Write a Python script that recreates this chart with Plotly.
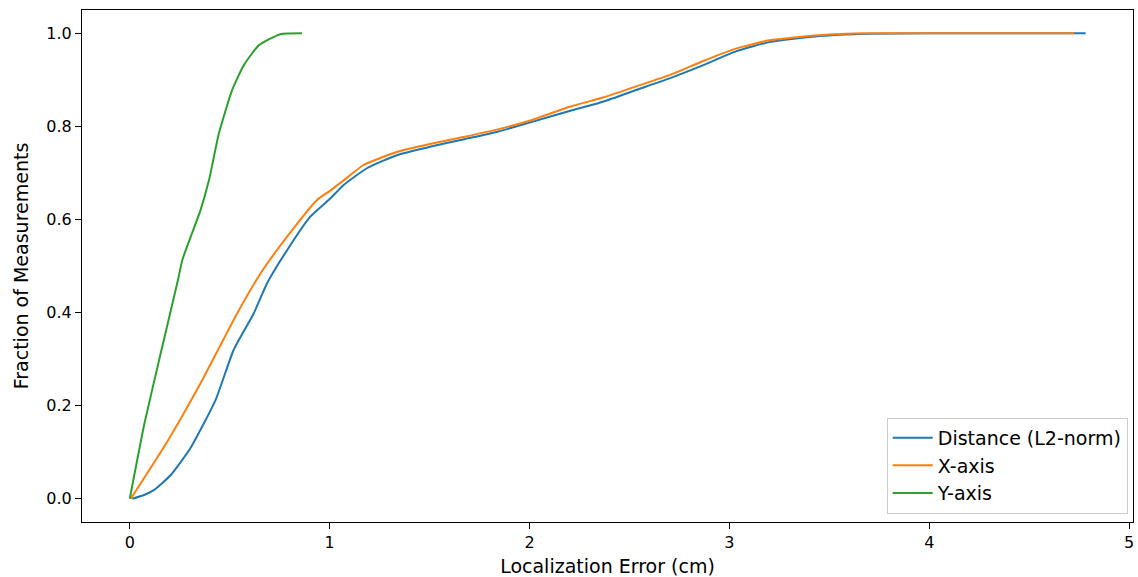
import plotly.graph_objects as go

# Distance (L2-norm) CDF
dist_x = [0.013, 0.072, 0.122, 0.205, 0.304, 0.429, 0.52, 0.62, 0.687, 0.787, 0.903, 1.003, 1.07, 1.186,
          1.336, 1.502, 1.668, 1.835, 2.0, 2.2, 2.367, 2.533, 2.7, 2.866, 3.032, 3.199, 3.45, 3.7, 4.0, 4.782]
dist_y = [0.0, 0.008, 0.019, 0.051, 0.109, 0.212, 0.32, 0.398, 0.463, 0.534, 0.606, 0.645, 0.674, 0.71,
          0.738, 0.756, 0.772, 0.788, 0.808, 0.833, 0.853, 0.878, 0.903, 0.931, 0.961, 0.981, 0.994, 0.999, 1.0, 1.0]

# X-axis CDF
xax_x = [0.005, 0.188, 0.354, 0.537, 0.654, 0.787, 0.937, 1.003, 1.094, 1.169, 1.336, 1.502, 1.668, 1.835,
         2.0, 2.2, 2.367, 2.533, 2.7, 2.866, 3.032, 3.2, 3.45, 3.7, 4.725]
xax_y = [0.0, 0.123, 0.248, 0.398, 0.484, 0.563, 0.642, 0.662, 0.692, 0.717, 0.745, 0.762, 0.777, 0.793,
         0.812, 0.842, 0.862, 0.886, 0.91, 0.94, 0.967, 0.985, 0.996, 1.0, 1.0]

# Y-axis CDF
yax_x = [0.0, 0.072, 0.155, 0.241, 0.263, 0.354, 0.396, 0.446, 0.512, 0.570, 0.645, 0.753, 0.862]
yax_y = [0.0, 0.159, 0.313, 0.47, 0.513, 0.62, 0.684, 0.785, 0.878, 0.931, 0.974, 0.998, 1.0]

series = [
    ("Distance (L2-norm)", dist_x, dist_y, "#1f77b4"),
    ("X-axis", xax_x, xax_y, "#ff7f0e"),
    ("Y-axis", yax_x, yax_y, "#2ca02c"),
]

x_ticks = [0, 1, 2, 3, 4, 5]
y_ticks = [0.0, 0.2, 0.4, 0.6, 0.8, 1.0]

fig = go.Figure()
for name, xs, ys, col in series:
    fig.add_trace(go.Scatter(x=xs, y=ys, mode="lines", name=name,
                             line=dict(color=col, width=2, shape="spline", smoothing=0.5)))

FS = 16
font = dict(family="DejaVu Sans", size=FS, color="black")
fig.update_layout(
    width=1138, height=577,
    margin=dict(l=82, r=5, t=10, b=55),
    paper_bgcolor="white", plot_bgcolor="white",
    font=font,
    showlegend=True,
    legend=dict(x=0.995, y=0.016, xanchor="right", yanchor="bottom",
                bgcolor="rgba(255,255,255,0.8)", bordercolor="#cccccc", borderwidth=1,
                font=dict(family="DejaVu Sans", size=19, color="black"),
                tracegroupgap=0, itemwidth=40),
)
fig.update_xaxes(range=[-0.239, 5.019], tickvals=x_ticks, ticktext=[str(v) for v in x_ticks],
                 showgrid=False, zeroline=False, showline=True, linecolor="black", linewidth=1,
                 mirror=True, ticks="outside", ticklen=6, tickcolor="black", automargin=False,
                 title=dict(text="Localization Error (cm)", standoff=11), tickfont=font)
fig.update_yaxes(range=[-0.05, 1.05], tickvals=y_ticks, ticktext=[f"{v:.1f}" for v in y_ticks],
                 showgrid=False, zeroline=False, showline=True, linecolor="black", linewidth=1,
                 mirror=True, ticks="outside", ticklen=6, tickcolor="black", automargin=False,
                 title=dict(text="Fraction of Measurements", standoff=12), tickfont=font)

fig.write_html("out.html", config={"displayModeBar": False},
               post_script="document.body.style.margin='0';document.body.style.overflow='hidden';")
